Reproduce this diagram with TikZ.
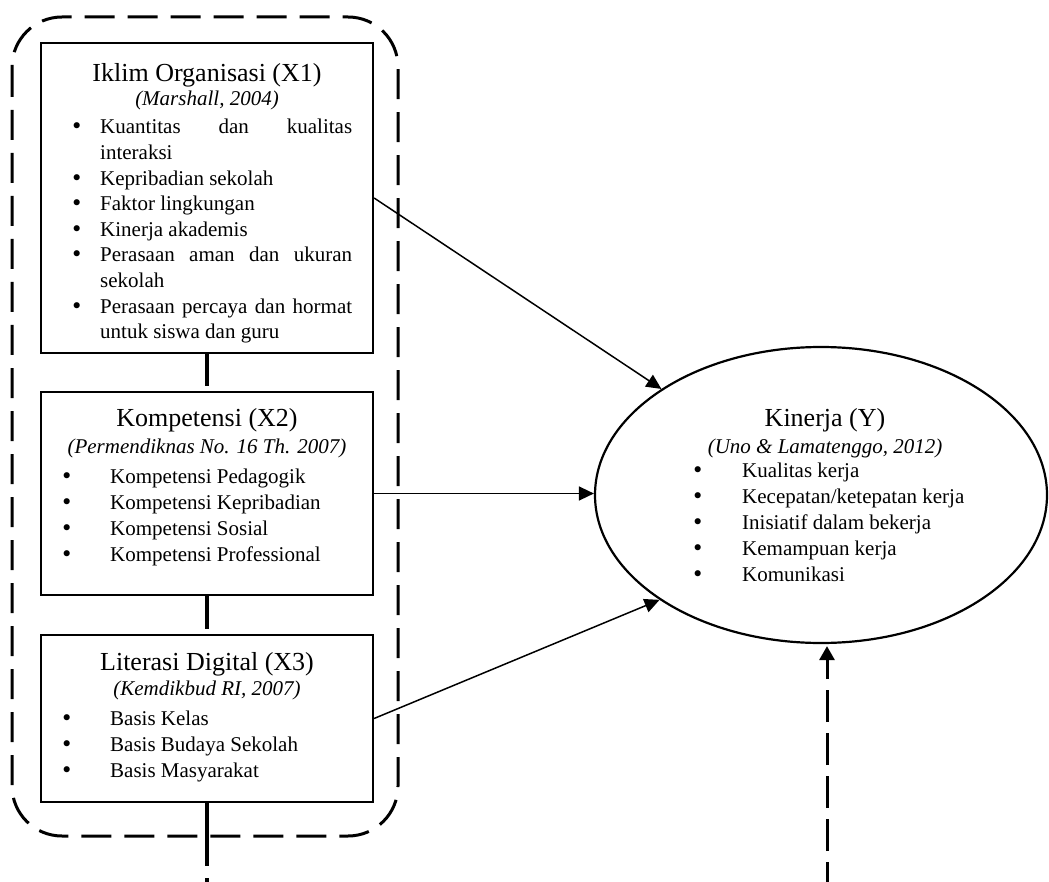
\documentclass[tikz,border=0pt]{standalone}
\usepackage{fontspec}
\setmainfont{Liberation Serif}
\newfontfamily\bulfont{DejaVu Sans}
\usetikzlibrary{arrows.meta,shapes.geometric}
\newcommand\bul{{\bulfont •}}
\newcommand\bitem[2]{\par\noindent\hangindent=#1\hangafter=1\makebox[#1][l]{\hspace{-1.5pt}\bul}\ignorespaces#2}
\begin{document}
\begin{tikzpicture}[x=1pt,y=-1pt,
  box/.style={draw, line width=2.2pt, inner sep=0pt, minimum width=332pt},
  ttl/.style={anchor=base, inner sep=0pt, font=\fontsize{26}{30}\selectfont},
  cit/.style={anchor=base, inner sep=0pt, font=\fontsize{21}{25}\selectfont\itshape},
  lst/.style={anchor=base west, inner sep=0pt},
  vline/.style={line width=3.5pt},
  frame/.style={line width=3pt, dash pattern=on 30pt off 13pt, rounded corners=50pt},
  arr/.style={line width=1.5pt, -{Triangle[length=15pt,width=14pt]}},
  darr/.style={line width=3pt, dash pattern=on 32pt off 11pt, dash phase=12pt, -{Triangle[length=14pt,width=15pt]}, shorten >=2pt}
]
\useasboundingbox (0,0) rectangle (1049,882);

% outer dashed group frame
\draw[frame] (12,17) rectangle (398,836);

% boxes
\node[box, minimum height=310pt] (b1) at (207,198) {};
\node[box, minimum height=203pt] (b2) at (207,493.5) {};
\node[box, minimum height=167pt] (b3) at (207,718.5) {};
\node[draw, ellipse, line width=2.2pt, minimum width=452pt, minimum height=296pt, inner sep=0pt] (Y) at (821,495) {};

% box 1 text
\node[ttl] (t1) at (207,81.5) {Iklim Organisasi (X1)};
\node[cit] (c1) at (207,106) {(Marshall, 2004)};
\node[lst] (l1) at (72,134) {\parbox[t]{280pt}{\fontsize{21}{25.6}\selectfont\hyphenpenalty=10000
  \bitem{28pt}{Kuantitas dan kualitas\linebreak interaksi}
  \bitem{28pt}{Kepribadian sekolah}
  \bitem{28pt}{Faktor lingkungan}
  \bitem{28pt}{Kinerja akademis}
  \bitem{28pt}{Perasaan aman dan ukuran\linebreak sekolah}
  \bitem{28pt}{Perasaan percaya dan hormat\linebreak untuk siswa dan guru}}};

% box 2 text
\node[ttl] (t2) at (207,426.5) {Kompetensi (X2)};
\node[cit] (c2) at (207,453) {(Permendiknas No. 16 Th. 2007)};
\node[lst] (l2) at (62,483) {\parbox[t]{300pt}{\fontsize{21}{26}\selectfont\raggedright
  \bitem{48pt}{Kompetensi Pedagogik}
  \bitem{48pt}{Kompetensi Kepribadian}
  \bitem{48pt}{Kompetensi Sosial}
  \bitem{48pt}{Kompetensi Professional}}};

% box 3 text
\node[ttl] (t3) at (207,670.5) {Literasi Digital (X3)};
\node[cit] (c3) at (207,695) {(Kemdikbud RI, 2007)};
\node[lst] (l3) at (62,725) {\parbox[t]{300pt}{\fontsize{21}{26.3}\selectfont\raggedright
  \bitem{48pt}{Basis Kelas}
  \bitem{48pt}{Basis Budaya Sekolah}
  \bitem{48pt}{Basis Masyarakat}}};

% ellipse text
\node[ttl] (tY) at (825,426.5) {Kinerja (Y)};
\node[cit] (cY) at (825,453) {(Uno \& Lamatenggo, 2012)};
\node[lst] (lY) at (693,477) {\parbox[t]{330pt}{\fontsize{21}{26}\selectfont\raggedright
  \bitem{49pt}{Kualitas kerja}
  \bitem{49pt}{Kecepatan/ketepatan kerja}
  \bitem{49pt}{Inisiatif dalam bekerja}
  \bitem{49pt}{Kemampuan kerja}
  \bitem{49pt}{Komunikasi}}};

% connectors between boxes
\draw[vline, dash pattern=on 32pt off 40pt] (b1.south) -- (b2.north);
\draw[vline, dash pattern=on 33pt off 40pt] (b2.south) -- (b3.north);
\coordinate (bl) at (205,882);
\draw[vline, dash pattern=on 63pt off 12pt] (b3.south) -- (b3.south |- bl);

% arrows to Y
\draw[arr] (b1.east) -- (Y);
\draw[arr] (b2.east) -- (b2.east -| Y.west);
\draw[arr] (b3.east) -- (Y.213);

\coordinate (br) at (827,882);
\draw[darr] (br) -- (br |- Y.south);
\end{tikzpicture}
\end{document}
